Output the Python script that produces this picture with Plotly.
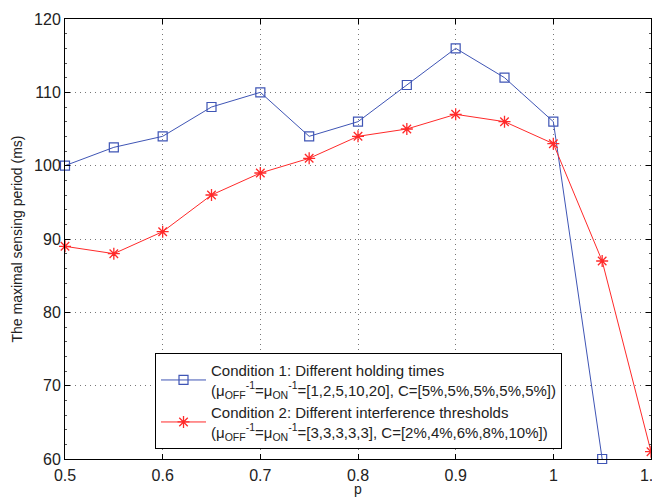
import plotly.graph_objects as go

p1 = [0.5, 0.55, 0.6, 0.65, 0.7, 0.75, 0.8, 0.85, 0.9, 0.95, 1.0, 1.05]
cond1 = [100, 102.5, 104, 108, 110, 104, 106, 111, 116, 112, 106, 60]
p2 = [0.5, 0.55, 0.6, 0.65, 0.7, 0.75, 0.8, 0.85, 0.9, 0.95, 1.0, 1.05, 1.1]
cond2 = [89, 88, 91, 96, 99, 101, 104, 105, 107, 106, 103, 87, 61]

name1 = ("Condition 1: Different holding times<br>"
         "(μ<sub>OFF</sub><sup>-1</sup>=μ<sub>ON</sub><sup>-1</sup>=[1,2,5,10,20], C=[5%,5%,5%,5%,5%])")
name2 = ("Condition 2: Different interference thresholds<br>"
         "(μ<sub>OFF</sub><sup>-1</sup>=μ<sub>ON</sub><sup>-1</sup>=[3,3,3,3,3], C=[2%,4%,6%,8%,10%])")

blue = "#3F55B5"
red = "#FF2A2A"
FONT = "Liberation Sans, Arial, Helvetica"

fig = go.Figure()
fig.add_trace(go.Scatter(x=p1, y=cond1, mode="lines+markers", name=name1, cliponaxis=False,
                         line=dict(color=blue, width=1),
                         marker=dict(symbol="square-open", size=9, color=blue, line=dict(width=1.2))))
fig.add_trace(go.Scatter(x=p2, y=cond2, mode="lines+markers", name=name2, cliponaxis=False,
                         line=dict(color=red, width=1),
                         marker=dict(symbol="asterisk-open", size=10, color=red, line=dict(width=1.3, color=red))))

axis_common = dict(showline=True, linecolor="black", linewidth=1, mirror="ticks",
                   ticks="inside", ticklen=5, tickcolor="black",
                   showgrid=True, gridcolor="#777777", griddash="1px,4px", gridwidth=1,
                   zeroline=False, ticklabeloverflow="allow", automargin=False,
                   tickfont=dict(family=FONT, size=16, color="#222"))

fig.update_xaxes(range=[0.5, 1.1], tickvals=[0.5, 0.6, 0.7, 0.8, 0.9, 1.0, 1.1],
                 ticktext=["0.5", "0.6", "0.7", "0.8", "0.9", "1", "1.1"],
                 ticklabelstandoff=2,
                 title=dict(text="p", font=dict(family=FONT, size=14, color="#222"), standoff=4),
                 **axis_common)
fig.update_yaxes(range=[60, 120], tickvals=[60, 70, 80, 90, 100, 110, 120],
                 title=dict(text="The maximal sensing period (ms)", font=dict(family=FONT, size=14, color="#222"), standoff=8),
                 minor=dict(ticks="inside", ticklen=2, tickcolor="#555", dtick=2, showgrid=False),
                 **axis_common)

# page body has an 8px default margin, so the figure is offset by 8px
fig.update_layout(
    width=652, height=489,
    margin=dict(l=57, r=9, t=11, b=38),
    plot_bgcolor="white", paper_bgcolor="white",
    font=dict(family=FONT, size=15, color="#222"),
    legend=dict(x=0.1536, y=0.241, xanchor="left", yanchor="top",
                bordercolor="black", borderwidth=1, bgcolor="white", itemwidth=45,
                font=dict(family=FONT, size=15, color="#222"), tracegroupgap=2),
)

fig.write_html("out.html")
